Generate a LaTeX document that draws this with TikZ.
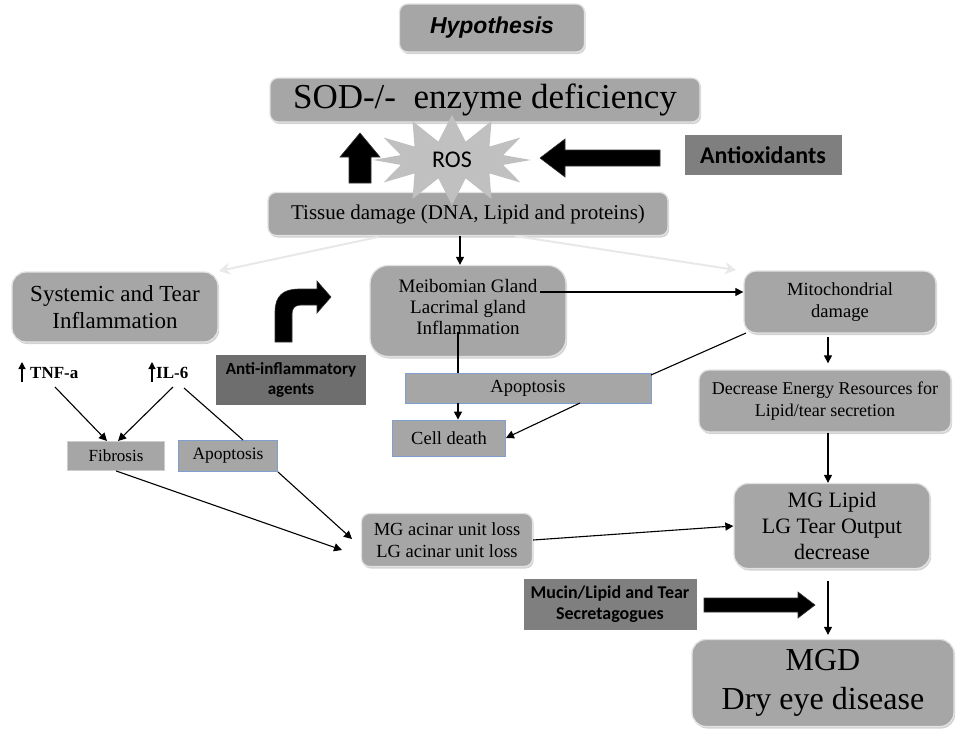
\documentclass[tikz,border=0pt]{standalone}
\usepackage{fontspec}
\setmainfont{Liberation Serif}
\newfontfamily\calib{Carlito}
\newfontfamily\arialf{Liberation Sans}
\usetikzlibrary{shapes.symbols,shadows,arrows.meta,calc}
\definecolor{boxgray}{HTML}{A6A6A6}
\definecolor{darkbox}{HTML}{7F7F7F}
\definecolor{darkerbox}{HTML}{6E6E6E}
\definecolor{rosgray}{HTML}{C0C0C0}
\definecolor{bluerim}{HTML}{7F9FD0}
\definecolor{rimgray}{HTML}{E2E2E2}
\definecolor{lightarrow}{HTML}{E8E8E8}
\newcommand{\fs}[1]{\fontsize{#1}{1.2\dimexpr #1pt\relax}\selectfont}
\newcommand{\fsb}[2]{\fontsize{#1}{#2}\selectfont}
\begin{document}
\begin{tikzpicture}[x=1pt,y=-1pt,
  mbox/.style={draw=rimgray, line width=1.3pt, fill=boxgray, rounded corners=#1,
    align=center, inner sep=0pt,
    drop shadow={shadow xshift=1.2pt, shadow yshift=-2pt, opacity=0.35}},
  mbox/.default=8pt,
  flatbox/.style={draw=#1, line width=0.8pt, fill=boxgray, align=center, inner sep=0pt},
  flatbox/.default=gray!40,
  drugbox/.style={fill=#1, draw=none, align=center, inner sep=0pt, font=\calib\bfseries},
  arr/.style={line width=1.1pt, -{Triangle[length=8pt,width=8pt]}},
  plain/.style={line width=1.1pt},
  larr/.style={draw=lightarrow, line width=2pt, -{Stealth[open,length=11pt,width=12pt,fill=white]}},
  block/.style={fill=black, draw=black!80, line width=0.6pt},
  lbl/.style={inner sep=0pt, font=\bfseries\fs{17}}
]
\useasboundingbox (0,0) rectangle (956,729);

% ---- boxes ----
\node[mbox, minimum width=185pt, minimum height=48pt, font=\arialf\bfseries\itshape\fs{23}] (hyp) at (492,28) {Hypothesis};
\node[mbox, minimum width=430pt, minimum height=44pt, font=\fs{35}] (sod) at (485,100) {SOD-/-\ \ enzyme deficiency};
\node[mbox, minimum width=400pt, minimum height=43pt, font=\fs{21}] (tissue) at (468,214) {Tissue damage (DNA, Lipid and proteins)};
\node[drugbox=darkbox, minimum width=157pt, minimum height=40pt, font=\calib\bfseries\fs{24}] (antiox) at (763,155) {Antioxidants};

\node[starburst, starburst points=12, starburst point height=26pt, random starburst=0,
  fill=rosgray, draw=none, minimum width=158pt, minimum height=90pt,
  font=\calib\fs{24}] (ros) at (452,160) {ROS};

\node[mbox=14pt, minimum width=206pt, minimum height=70pt, font=\fs{23}] (systemic) at (115,307) {Systemic and Tear\\Inflammation};
\node[drugbox=darkerbox, minimum width=150pt, minimum height=50pt, font=\calib\bfseries\fs{17}] (anti) at (291,380) {Anti-inflammatory\\agents};
\node[mbox=18pt, minimum width=196pt, minimum height=91pt, font=\fsb{19}{21}] (meib) at (468,311) {Meibomian Gland\\Lacrimal gland\\Inflammation\\[-12pt]\mbox{}};
\node[mbox=12pt, minimum width=192pt, minimum height=62pt, font=\fs{18.5}] (mito) at (840,302) {Mitochondrial\\damage};
\node[flatbox=bluerim, minimum width=246pt, minimum height=30pt, font=\fs{18.5}] (apopc) at (528,388) {Apoptosis};
\node[flatbox=bluerim, minimum width=113pt, minimum height=36pt, font=\fs{18.5}] (celld) at (449,438) {Cell death};
\node[mbox=10pt, minimum width=252pt, minimum height=62pt, font=\fs{18}] (decr) at (825,401) {Decrease Energy Resources for\\Lipid/tear secretion};
\node[mbox=14pt, minimum width=196pt, minimum height=85pt, font=\fs{22}] (mglip) at (832,526) {MG Lipid\\LG Tear Output\\decrease};
\node[mbox=14pt, minimum width=262pt, minimum height=87pt, font=\fs{32}] (mgd) at (823,683) {MGD\\Dry eye disease};
\node[drugbox=darkbox, minimum width=173pt, minimum height=51pt, font=\calib\bfseries\fs{18}] (mucin) at (610,604) {Mucin/Lipid and Tear\\Secretagogues};
\node[mbox=8pt, minimum width=171pt, minimum height=53pt, font=\fs{18.5}] (acinar) at (447,540) {MG acinar unit loss\\LG acinar unit loss};
\node[flatbox, minimum width=97pt, minimum height=29pt, font=\fs{17}] (fib) at (116,456) {Fibrosis};
\node[flatbox=bluerim, minimum width=99pt, minimum height=31pt, font=\fs{17.5}] (apopl) at (228,456) {Apoptosis};

\node[lbl, anchor=west] (tnf) at (30,373) {TNF-a};
\node[lbl, anchor=west] (il6) at (156,373) {IL-6};

% ---- block arrows ----
\draw[block] (349,183) -- (349,157) -- (340,157) -- (360,133) -- (380,157) -- (371,157) -- (371,183) -- cycle;
\draw[block] (660,150) -- (565,150) -- (565,139) -- (540,158) -- (565,177) -- (565,166) -- (660,166) -- cycle;
\draw[block] (704,598) -- (798,598) -- (798,592) -- (815,605) -- (798,618) -- (798,612) -- (704,612) -- cycle;
\draw[block] (275,342) -- (275,312) .. controls (275,296) and (283,289) .. (299,289) -- (317,289) -- (317,281)
  -- (331,297) -- (317,313) -- (317,305) -- (301,305) .. controls (295,305) and (292,308) .. (292,314) -- (292,342) -- cycle;

% ---- named points ----
\coordinate (tx) at (460,0);
\coordinate (rx) at (828,0);
\coordinate (lt1) at (378,237);
\coordinate (lt2) at (219,271);
\coordinate (rt1) at (515,236);
\coordinate (rt2) at (736,270);
\coordinate (meibR) at (540,292);
\coordinate (meibD) at (458,332);
\coordinate (mitoL) at (746,333);
\coordinate (apR) at (651,375);
\coordinate (apB) at (580,403);
\coordinate (acinA) at (352,539);
\coordinate (acinB) at (342,550);
\coordinate (tnfS) at (55,387);
\coordinate (il6S) at (173,387);
\coordinate (il6R) at (184,388);
\coordinate (fibA) at (107,441);
\coordinate (fibB) at (118,441);
\coordinate (apTL) at (243,440);

% ---- connectors ----
\draw[larr] (lt1) -- (lt2);
\draw[larr] (rt1) -- (rt2);
\draw[arr] (tissue.south -| tx) -- (meib.north -| tx);
\draw[arr] (meibR) -- (mito.west |- meibR);
\draw[plain] (meibD) -- (apopc.north -| meibD);
\draw[arr] (apopc.south -| meibD) -- (celld.north -| meibD);
\draw[plain] (mitoL) -- (apR);
\draw[arr] (apB) -- (celld.east);
\draw[arr] ([yshift=-3pt]mito.south -| rx) -- ([yshift=6pt]decr.north -| rx);
\draw[arr] (decr.south -| rx) -- (mglip.north -| rx);
\draw[arr] ([yshift=-12pt]mglip.south -| rx) -- ([yshift=4pt]mgd.north -| rx);
\draw[arr] (acinar.east) -- (mglip.west);
\draw[arr] (fib.south) -- (acinB);
\draw[arr] (apopl.south east) -- (acinA);
\draw[arr] (tnfS) -- (fibA);
\draw[arr] (il6S) -- (fibB);
\draw[plain] (il6R) -- (apTL);
\draw[line width=1.2pt, -{Triangle[length=7pt,width=7pt]}] ([xshift=-8pt,yshift=-9pt]tnf.west) -- ([xshift=-8pt,yshift=11pt]tnf.west);
\draw[line width=1.2pt, -{Triangle[length=7pt,width=7pt]}] ([xshift=-4pt,yshift=-9pt]il6.west) -- ([xshift=-4pt,yshift=11pt]il6.west);
\end{tikzpicture}
\end{document}
